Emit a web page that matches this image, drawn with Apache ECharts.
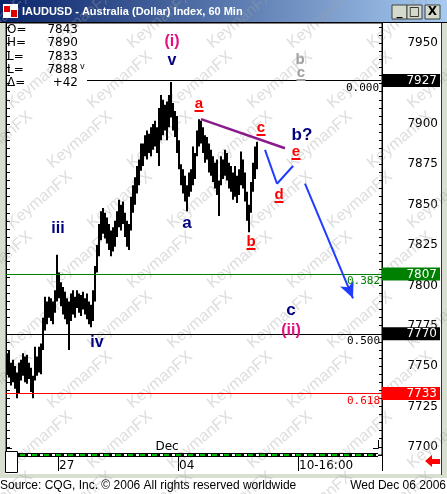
<!DOCTYPE html>
<html><head><meta charset="utf-8">
<script src="https://cdn.jsdelivr.net/npm/echarts@6/dist/echarts.min.js"></script>
<style>html,body{margin:0;padding:0;background:#fff;}#c{width:447px;height:494px;}</style>
</head><body><div id="c"></div>
<script>
// ---- data (2-hour high/low bars) ----
const lows = [7745,7743,7738,7740,7736,7730,7733,7741,7744,7740,
7739,7742,7734,7730,7741,7744,7746,7745,7760,7772,
7776,7780,7778,7776,7783,7790,7792,7787,7782,7779,
7776,7760,7778,7782,7780,7786,7783,7781,7785,7782,
7779,7776,7774,7778,7790,7808,7818,7828,7832,7829,
7826,7822,7818,7821,7824,7830,7836,7834,7838,7830,
7824,7822,7834,7845,7850,7857,7862,7871,7874,7880,
7878,7882,7880,7884,7886,7882,7874,7890,7893,7896,
7890,7898,7904,7896,7892,7882,7872,7862,7857,7852,
7846,7855,7858,7862,7866,7880,7886,7888,7882,7876,
7878,7870,7868,7864,7860,7856,7843,7862,7866,7868,
7865,7860,7858,7853,7855,7851,7856,7862,7860,7852,
7840,7833,7845,7858,7866,7872];
const highs = [7758,7760,7752,7754,7750,7746,7752,7754,7758,7756,
7757,7752,7749,7744,7762,7756,7762,7764,7780,7793,
7790,7793,7792,7790,7797,7819,7808,7802,7799,7796,
7792,7790,7795,7797,7793,7797,7795,7794,7796,7792,
7795,7790,7788,7797,7812,7825,7838,7846,7848,7845,
7842,7838,7834,7836,7840,7846,7853,7850,7852,7845,
7840,7838,7855,7862,7867,7874,7878,7888,7888,7893,
7896,7894,7898,7900,7902,7898,7910,7918,7915,7912,
7914,7918,7926,7913,7908,7905,7890,7875,7872,7868,
7862,7870,7872,7886,7882,7896,7903,7902,7898,7893,
7892,7888,7884,7880,7876,7878,7865,7880,7878,7884,
7882,7876,7874,7870,7874,7868,7872,7883,7878,7870,
7858,7850,7864,7876,7886,7889];
const slotCount = 188;                       // 2-hour slots across the time axis
const xTickIndex = [26, 86, 146];
const xTickText = ['27', '04', '10-16:00'];
const yTickLabels = [7700,7725,7750,7775,7800,7825,7850,7875,7900,7925,7950];
const fibLevels = [7927, 7807, 7770, 7733];
const fibLabels = ['0.000', '0.382', '0.500', '0.618'];
const infoNames = ['O=', 'H=', 'L=', 'L=', '\u0394='];
const infoValues = ['7843', '7890', '7833', '7888', '+42'];
const trendLine = [[97, 7903], [139, 7885]];
const pathDE = [[129, 7884], [135, 7863], [143, 7874]];
const arrowPath = [[149, 7863], [173, 7792]];

// ---- styles ----
const fibColors = ['#000000', '#008000', '#000000', '#ff0000'];
const minorTicks = [];
for (let v = 7695; v <= 7960; v += 5) minorTicks.push(v);
const categories = Array.from({length: slotCount}, (_, i) => String(i));

const ml = [];
fibLevels.forEach((v, i) => {
  const col = fibColors[i];
  const fl = {show: true, position: 'insideEndBottom', distance: 2, formatter: fibLabels[i], color: col,
    fontFamily: 'DejaVu Sans Mono', fontSize: 11};
  if (i === 0) {
    ml.push([{coord: ['40', v], lineStyle: {color: col, width: 1, type: 'solid'}, label: fl}, {coord: [String(slotCount - 1), v]}]);
  } else {
    ml.push({yAxis: v, lineStyle: {color: col, width: 1, type: 'solid'}, label: fl});
  }
  ml.push({yAxis: v, lineStyle: {color: 'rgba(0,0,0,0)', width: 1}, label: {show: true, position: 'end', distance: 0,
    formatter: '{v|' + v + '}',
    rich: {v: {width: 55, align: 'right', padding: [1, 3, 0, 0], backgroundColor: col, color: '#fff',
      fontFamily: 'DejaVu Sans', fontSize: 12, lineHeight: 13}}}});
});
function seg(a, b, col, w, arrow) {
  return [{coord: [String(a[0]), a[1]], symbol: 'none', lineStyle: {color: col, width: w, type: 'solid'}, label: {show: false}},
          {coord: [String(b[0]), b[1]], symbol: arrow ? 'arrow' : 'none', symbolSize: arrow ? [11, 16] : 0}];
}
ml.push(seg(trendLine[0], trendLine[1], '#8b1a8b', 2.5));
ml.push(seg(pathDE[0], pathDE[1], '#1f3cff', 2));
ml.push(seg(pathDE[1], pathDE[2], '#1f3cff', 2));
ml.push(seg(arrowPath[0], arrowPath[1], '#1f3cff', 2, true));

// ---- decorations ----
const g = [];
g.push({type: 'rect', z: 0, shape: {x: 0, y: 0, width: 447, height: 22},
  style: {fill: new echarts.graphic.LinearGradient(0, 0, 1, 0, [{offset: 0, color: '#0a246a'}, {offset: 1, color: '#a6caf0'}])}});
g.push({type: 'rect', z: 5, shape: {x: 3, y: 4, width: 15, height: 14}, style: {fill: '#ffffff'}});
g.push({type: 'rect', z: 5, shape: {x: 4, y: 6, width: 6, height: 6}, style: {fill: '#e00000'}});
g.push({type: 'rect', z: 5, shape: {x: 11, y: 10, width: 6, height: 7}, style: {fill: '#e00000'}});
g.push({type: 'text', z: 5, x: 22, y: 12, style: {text: 'IAUDUSD - Australia (Dollar) Index, 60 Min', fill: '#fff',
  font: 'bold 11px "Liberation Sans"', verticalAlign: 'middle'}});
[[392, '_'], [407, '\u25a1'], [425, 'X']].forEach(([bx, t]) => {
  g.push({type: 'rect', z: 5, shape: {x: bx, y: 5, width: 15, height: 14}, style: {fill: '#d4dacb', stroke: '#404040', lineWidth: 1}});
  g.push({type: 'text', z: 6, x: bx + 7.5, y: 12, style: {text: t, fill: '#000', font: 'bold 12px "DejaVu Sans"', align: 'center', verticalAlign: 'middle'}});
});
// window frame
g.push({type: 'rect', z: 0, shape: {x: 0, y: 22, width: 5, height: 454}, style: {fill: '#d8dfd0'}});
g.push({type: 'rect', z: 0, shape: {x: 442, y: 22, width: 5, height: 454}, style: {fill: '#d8dfd0'}});
g.push({type: 'rect', z: 0, shape: {x: 0, y: 474, width: 447, height: 4}, style: {fill: '#d8dfd0'}});
g.push({type: 'line', z: 3, shape: {x1: 441.5, y1: 22, x2: 441.5, y2: 475}, style: {stroke: '#303030', lineWidth: 1}});
g.push({type: 'line', z: 3, shape: {x1: 0, y1: 22.5, x2: 447, y2: 22.5}, style: {stroke: '#000', lineWidth: 1}});
// info text
infoNames.forEach((n, i) => {
  const y = 30 + i * 13.3;
  g.push({type: 'text', z: 6, x: 7, y: y, style: {text: n, fill: '#000', font: '12px "DejaVu Sans"', verticalAlign: 'middle'}});
  g.push({type: 'text', z: 6, x: 78, y: y, style: {text: infoValues[i], fill: '#000', font: '12px "DejaVu Sans"', align: 'right', verticalAlign: 'middle'}});
});
g.push({type: 'text', z: 6, x: 80, y: 67, style: {text: 'v', fill: '#000', font: '8px "DejaVu Sans"', verticalAlign: 'middle'}});
// wave labels
function lab(x, y, t, col, size, ul) {
  g.push({type: 'text', z: 8, x: x, y: y, style: {text: t, fill: col, font: 'bold ' + size + 'px "Liberation Sans"', align: 'center', verticalAlign: 'middle'}});
  if (ul) g.push({type: 'rect', z: 8, shape: {x: x - 4.5, y: y + 6, width: 9, height: 2}, style: {fill: col}});
}
const navy = '#000080', mag = '#e0107f', red = '#ff0000', grey = '#a0a0a0';
lab(172, 42, '(i)', mag, 16); lab(172, 61, 'v', navy, 16);
lab(58, 229, 'iii', navy, 16); lab(97, 343, 'iv', navy, 16);
lab(187, 223, 'a', navy, 17); lab(302, 135, 'b?', navy, 17);
lab(291, 310, 'c', navy, 17); lab(291, 331, '(ii)', mag, 16);
lab(199, 104, 'a', red, 15, true); lab(261, 128, 'c', red, 15, true);
lab(251, 242, 'b', red, 15, true); lab(279, 195, 'd', red, 15, true);
lab(296, 152, 'e', red, 15, true);
lab(300, 60, 'b', grey, 15); lab(301, 73, 'c', grey, 15, true);
// bottom strip
g.push({type: 'text', z: 6, x: 167, y: 447, style: {text: 'Dec', fill: '#000', font: '12px "DejaVu Sans"', align: 'center', verticalAlign: 'middle'}});
g.push({type: 'polyline', z: 6, shape: {points: [[6.5, 440], [6.5, 448.5], [12, 448.5]]}, style: {stroke: '#000', lineWidth: 1}});
g.push({type: 'polyline', z: 6, shape: {points: [[373, 448.5], [378.5, 448.5], [378.5, 440]]}, style: {stroke: '#000', lineWidth: 1}});
g.push({type: 'line', z: 6, shape: {x1: 18, y1: 455, x2: 378, y2: 455}, style: {stroke: '#000', lineWidth: 4}});
g.push({type: 'line', z: 7, shape: {x1: 20, y1: 455, x2: 378, y2: 455}, style: {stroke: '#00c000', lineWidth: 2, lineDash: [5, 7]}});
g.push({type: 'line', z: 7, shape: {x1: 28, y1: 455, x2: 378, y2: 455}, style: {stroke: '#ffffff', lineWidth: 2, lineDash: [3, 9]}});
g.push({type: 'rect', z: 7, shape: {x: 5.5, y: 451.5, width: 12, height: 21}, style: {fill: '#fff', stroke: '#000', lineWidth: 1}});
g.push({type: 'polygon', z: 7, shape: {points: [[425, 461], [432, 455], [432, 459], [440, 459], [440, 464], [432, 464], [432, 467]]}, style: {fill: '#ff0000'}});
// footer
g.push({type: 'text', z: 6, x: 0, y: 486, style: {text: 'Source: CQG, Inc. \u00a9 2006 All rights reserved worldwide', fill: '#000', font: '12px "Liberation Sans"', verticalAlign: 'middle'}});
g.push({type: 'text', z: 6, x: 446, y: 486, style: {text: 'Wed Dec 06 2006', fill: '#000', font: '12px "Liberation Sans"', align: 'right', verticalAlign: 'middle'}});
// watermark
for (let r = -1; r < 10; r++) {
  for (let c = -1; c < 7; c++) {
    g.push({type: 'text', z: 1, silent: true, x: c * 80 + (r % 2 ? 40 : 0), y: 20 + r * 60, rotation: 0.7,
      style: {text: 'KeymanFX', fill: '#a0a0a0', opacity: 0.36, font: '16px "Liberation Sans"', align: 'center', verticalAlign: 'middle'}});
  }
}

const chart = echarts.init(document.getElementById('c'), null, {renderer: 'canvas'});
chart.setOption({
  animation: false,
  backgroundColor: '#ffffff',
  grid: {left: 6, right: 65, top: 23, bottom: 39, show: true, backgroundColor: 'rgba(0,0,0,0)', borderColor: '#000', borderWidth: 1, z: 2},
  xAxis: {
    type: 'category', data: categories, boundaryGap: true,
    axisLine: {show: true, lineStyle: {color: '#000', width: 1}},
    axisTick: {show: true, length: 16, interval: (i) => xTickIndex.indexOf(i) >= 0, lineStyle: {color: '#000'}},
    axisLabel: {interval: (i) => xTickIndex.indexOf(i) >= 0, formatter: (v, i) => xTickText[xTickIndex.indexOf(Number(v))] || '',
      align: 'left', margin: 5, color: '#000', fontFamily: 'DejaVu Sans', fontSize: 12},
    splitLine: {show: false}
  },
  yAxis: [{
    type: 'value', position: 'right', min: 7694.9, max: 7962.6,
    axisLine: {show: true, lineStyle: {color: '#000'}},
    splitLine: {show: false},
    axisTick: {show: true, inside: true, length: 3, customValues: minorTicks, lineStyle: {color: '#000'}},
    axisLabel: {customValues: yTickLabels, formatter: (v) => String(v), align: 'right', margin: 56, color: '#000', fontFamily: 'DejaVu Sans', fontSize: 12}
  }, {
    type: 'value', position: 'left', min: 7694.9, max: 7962.6,
    axisLine: {show: true, lineStyle: {color: '#000'}},
    splitLine: {show: false},
    axisTick: {show: true, inside: true, length: 4, customValues: minorTicks, lineStyle: {color: '#000'}},
    axisLabel: {show: false}
  }],
  graphic: g,
  series: [{
    type: 'custom', z: 3,
    data: lows.map((l, i) => [i, l, highs[i]]),
    encode: {x: 0, y: [1, 2]},
    renderItem: (params, api) => {
      const lo = api.coord([api.value(0), api.value(1)]);
      const hi = api.coord([api.value(0), api.value(2)]);
      const w = api.size([1, 0])[0];
      return {type: 'rect', shape: {x: lo[0] - w / 2, y: hi[1], width: w, height: Math.max(1, lo[1] - hi[1])}, style: {fill: '#000'}};
    },
    markLine: {silent: true, symbol: ['none', 'none'], label: {show: false}, data: ml, animation: false}
  }]
});
</script></body></html>
